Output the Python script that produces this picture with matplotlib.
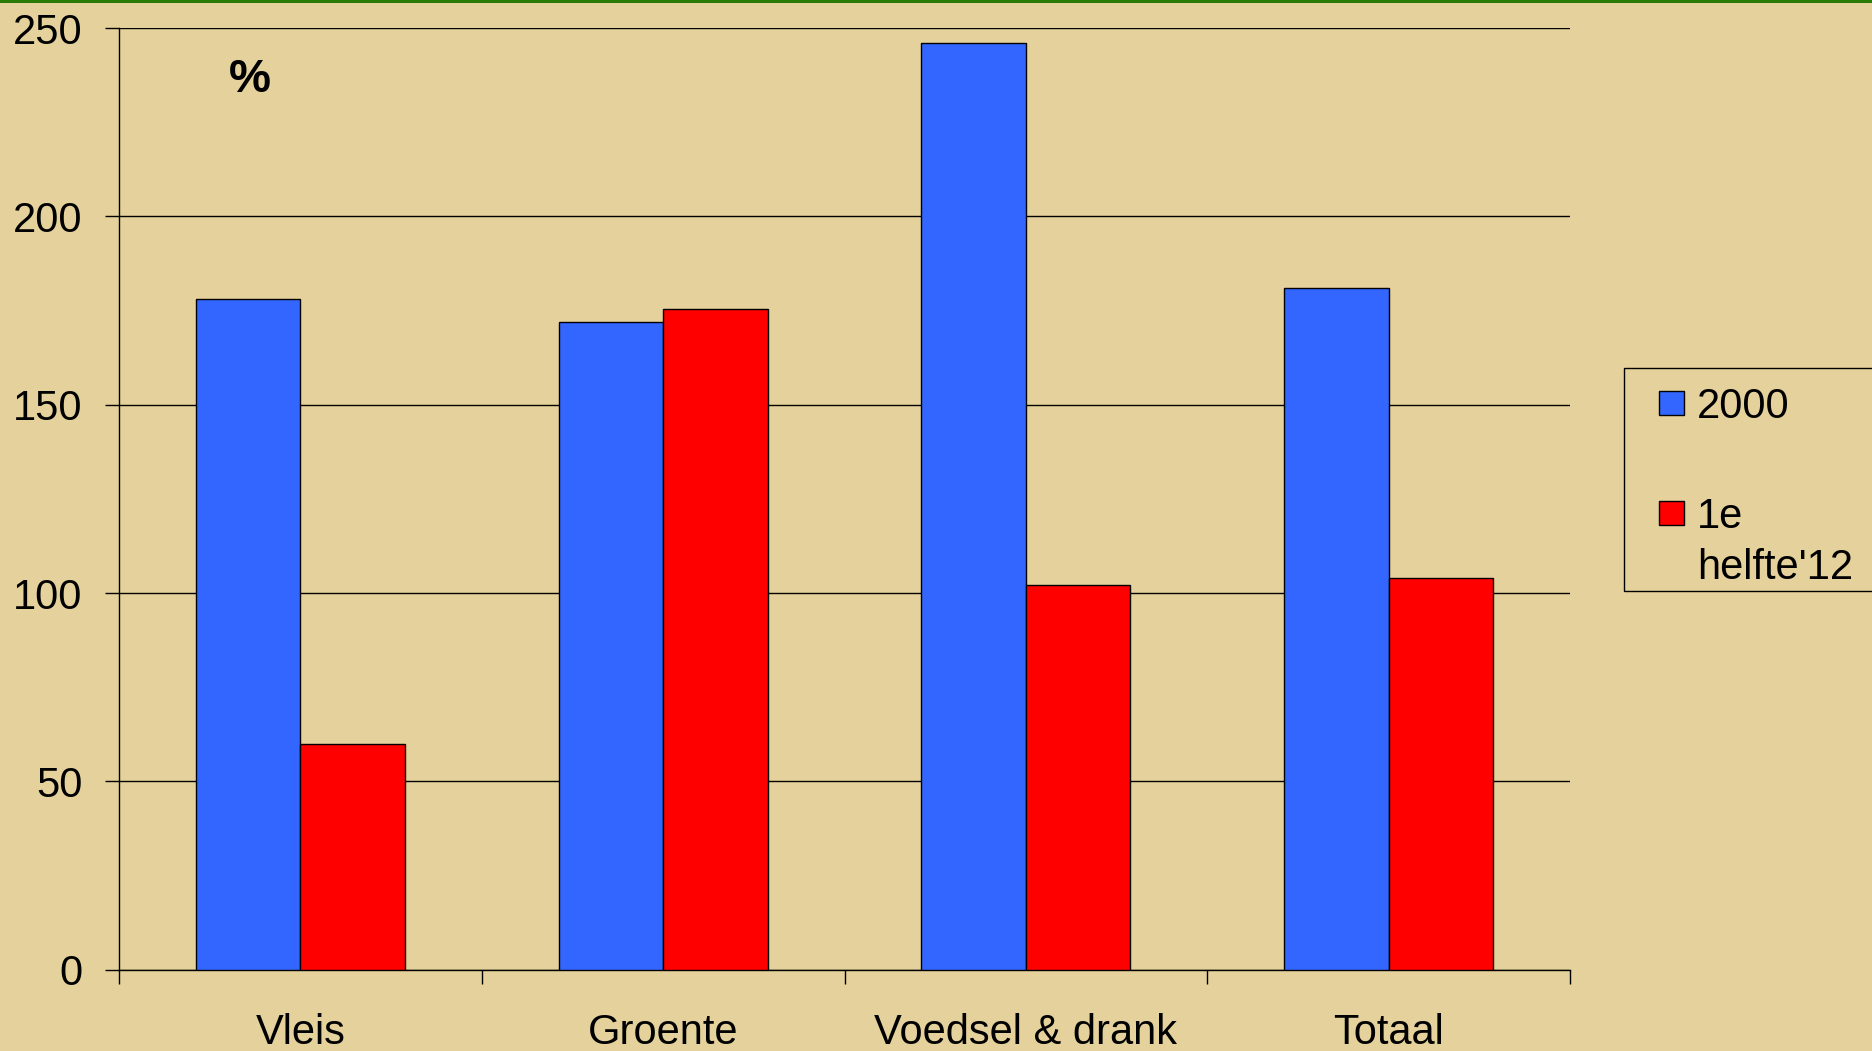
import matplotlib
matplotlib.use("Agg")
import matplotlib.pyplot as plt
from matplotlib.patches import Rectangle
import numpy as np

# Data
categories = ["Vleis", "Groente", "Voedsel & drank", "Totaal"]
series_names = ["2000", "1e\nhelfte'12"]
values_2000 = [178, 172, 246, 181]
values_2012 = [60, 175.5, 102, 104]
y_ticks = [0, 50, 100, 150, 200, 250]
unit_label = "%"

# Style
bg = "#E5D19B"
blue = "#3366FF"
red = "#FF0000"
green = "#2A7A08"
plt.rcParams["font.family"] = ["Liberation Sans", "DejaVu Sans"]

W, H = 1872, 1051
fig = plt.figure(figsize=(W / 100, H / 100), dpi=100, facecolor=bg)
ax = fig.add_axes([119 / W, 1 - 969.7 / H, (1570 - 119) / W, 941.7 / H])
ax.set_facecolor(bg)

x = np.arange(len(categories))
bw = 0.288
ax.bar(x - bw / 2, values_2000, bw, color=blue, edgecolor="black", linewidth=1.0, zorder=3)
ax.bar(x + bw / 2, values_2012, bw, color=red, edgecolor="black", linewidth=1.0, zorder=3)

ax.set_xlim(-0.5, len(categories) - 0.5)
ax.set_ylim(0, 250)
ax.set_yticks(y_ticks)
ax.yaxis.grid(True, color="black", linewidth=1.0)
ax.set_axisbelow(True)

# Ticks between groups, labels centred on groups
ax.set_xticks(np.arange(len(categories) + 1) - 0.5)
ax.set_xticklabels([])
ax.set_xticks(x, minor=True)
ax.set_xticklabels(categories, minor=True)
ax.tick_params(axis="x", which="major", direction="out", length=10, width=1.0, color="black")
ax.tick_params(axis="x", which="minor", length=0, pad=31, labelsize=30)
ax.tick_params(axis="y", direction="out", length=10, width=1.0, pad=16.5, labelsize=30)

for side in ("top", "right"):
    ax.spines[side].set_visible(False)
for side in ("left", "bottom"):
    ax.spines[side].set_linewidth(1.0)
    ax.spines[side].set_color("black")

ax.text(0.0903, 0.945, unit_label, transform=ax.transAxes, fontsize=34,
        fontweight="bold", ha="center", va="center")

# Green rule along the top edge
fig.add_artist(Rectangle((0, 1 - 3 / H), 1, 3 / H, transform=fig.transFigure,
                         facecolor=green, edgecolor="none"))

# Legend box
fig.add_artist(Rectangle((1624 / W, 1 - 591 / H), 0.2, (591 - 368) / H,
                         transform=fig.transFigure, facecolor="none",
                         edgecolor="black", linewidth=1.0))
legend_colors = [blue, red]
square_tops = [391, 501]
for name, col, top in zip(series_names, legend_colors, square_tops):
    fig.add_artist(Rectangle((1659 / W, 1 - (top + 24) / H), 25 / W, 24 / H,
                             transform=fig.transFigure, facecolor=col,
                             edgecolor="black", linewidth=1.0))
    fig.text(1697 / W, 1 - (top - 4) / H, name, fontsize=30, ha="left",
             va="top", linespacing=1.35)

fig.savefig("out.png", dpi=100, facecolor=bg)
